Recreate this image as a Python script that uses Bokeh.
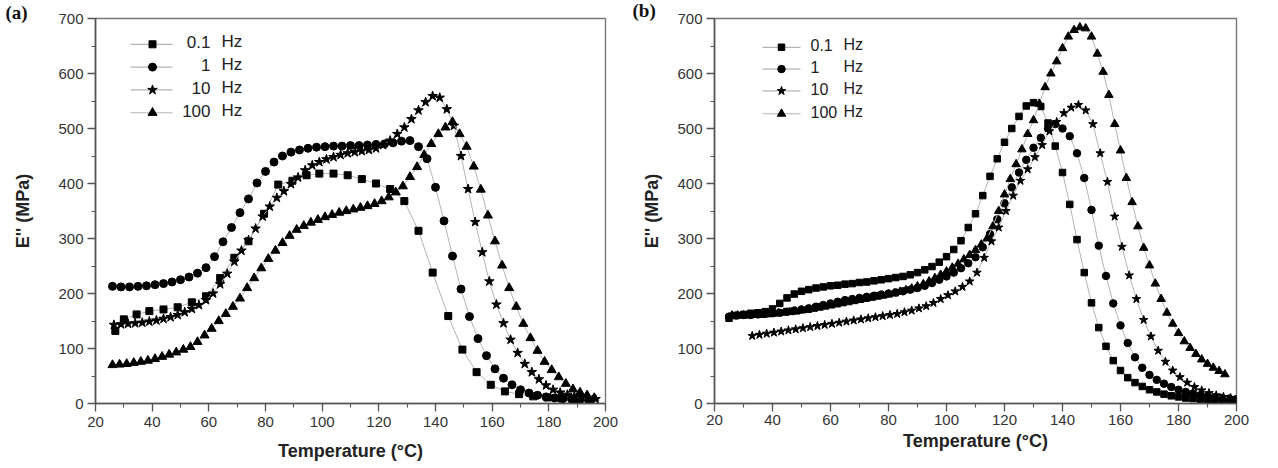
from bokeh.plotting import figure
from bokeh.layouts import row
from bokeh.models import Range1d, SingleIntervalTicker, Label, Title
from bokeh.embed import file_html
from bokeh.resources import INLINE

# ---------------- data: panel (a) ----------------
a_sq_T = [27, 30, 34.5, 39, 44, 49, 54, 59, 64, 69, 74, 79.5, 84.5, 89.5, 94.5, 99, 104, 109, 114, 119,
          124, 129, 134, 139, 144.5, 149.5, 154.5, 159.5, 164.5, 169.5, 174.5, 179.5, 184.5, 189.5, 194.5]
a_sq_E = [132, 153, 162, 168, 171, 175, 184, 195, 228, 265, 295, 345, 398, 405, 415, 418, 418, 415, 408, 400,
          390, 368, 314, 238, 159, 98, 57, 34, 22, 17, 13, 11, 9, 8, 7]

a_ci_T = [26, 29, 32, 35, 38, 41, 44, 47, 50, 53, 56, 59, 62, 65, 68, 71, 74, 77, 80, 83, 86, 89, 92, 95, 98,
          101, 104, 107, 110, 113, 116, 119, 122, 125, 128, 131, 134, 137, 140, 143, 146, 149, 152, 155, 158,
          161, 164, 167, 170, 173, 176, 179, 182, 185, 188, 191, 194]
a_ci_E = [213, 212, 212, 213, 214, 216, 218, 221, 225, 230, 237, 247, 267, 294, 320, 347, 372, 401, 422, 439,
          450, 457, 461, 464, 466, 467, 468, 468, 469, 469, 470, 471, 472, 474, 477, 478, 467, 445, 393, 332,
          268, 208, 158, 118, 87, 63, 46, 34, 25, 19, 15, 12, 10, 9, 8, 7, 7]

a_st_T = [26.5, 29, 31.5, 34, 36.5, 39, 41.5, 44, 46.5, 49, 51.5, 54, 56.5, 59, 61.5, 64, 66.5, 69, 71.5, 74,
          76.5, 79, 81.5, 84, 86.5, 89, 91.5, 94, 96.5, 99, 101.5, 104, 106.5, 109, 111.5, 114, 116.5, 119,
          121.5, 124, 126.5, 129, 131.5, 134, 136.5, 139, 141.5, 144, 146.5, 149, 151.5, 154, 156.5, 159,
          161.5, 164, 166.5, 169, 171.5, 174, 176.5, 179, 181.5, 184, 186.5, 189, 191.5, 194, 196.5]
a_st_E = [143, 144, 145, 146, 147, 149, 151, 154, 157, 161, 166, 172, 179, 188, 200, 217, 236, 258, 278, 297,
          318, 340, 358, 374, 386, 399, 411, 424, 433, 439, 444, 448, 452, 455, 457, 459, 461, 464, 470, 478,
          490, 502, 517, 533, 548, 559, 556, 535, 505, 450, 390, 330, 275, 222, 180, 146, 116, 92, 72, 57,
          44, 33, 25, 20, 16, 13, 11, 9, 8]

a_tr_T = [26, 28.5, 31, 33.5, 36, 38.5, 41, 43.5, 46, 48.5, 51, 53.5, 56, 58.5, 61, 63.5, 66, 68.5, 71, 73.5,
          76, 78.5, 81, 83.5, 86, 88.5, 91, 93.5, 96, 98.5, 101, 103.5, 106, 108.5, 111, 113.5, 116, 118.5,
          121, 123.5, 126, 128.5, 131, 133.5, 136, 138.5, 141, 143.5, 146, 148.5, 151, 153.5, 156, 158.5,
          161, 163.5, 166, 168.5, 171, 173.5, 176, 178.5, 181, 183.5, 186, 188.5, 191, 193.5, 196]
a_tr_E = [70, 71, 72, 74, 76, 78, 81, 85, 89, 93, 98, 103, 112, 124, 136, 150, 163, 176, 191, 210,
          228, 246, 263, 278, 292, 305, 316, 323, 329, 334, 339, 343, 347, 350, 353, 356, 359, 363, 368, 375,
          384, 395, 412, 430, 452, 472, 490, 502, 512, 490, 467, 431, 389, 342, 295, 251, 210, 176, 145, 119,
          96, 76, 61, 48, 36, 26, 20, 15, 10]

# ---------------- data: panel (b) ----------------
b_sq_T = [25, 27.5, 30, 32.5, 35, 37.5, 40, 42.5, 45, 47.5, 50, 52.5, 55, 57.5, 60, 62.5, 65, 67.5, 70, 72.5,
          75, 77.5, 80, 82.5, 85, 87.5, 90, 92.5, 95, 97.5, 100, 102.5, 105, 107.5, 110, 112.5, 115, 117.5,
          120, 122.5, 125, 127.5, 130, 132.5, 135, 137.5, 140, 142.5, 145, 147.5, 150, 152.5, 155, 157.5,
          160, 162.5, 165, 167.5, 170, 172.5, 175, 177.5, 180, 182.5, 185, 187.5, 190, 192.5, 195, 197.5, 200]
b_sq_E = [155, 160, 162, 164, 165, 167, 172, 182, 192, 199, 204, 207, 210, 212, 214, 215, 217, 218, 220, 221,
          223, 225, 227, 229, 231, 234, 238, 243, 249, 257, 267, 280, 296, 320, 345, 378, 413, 445, 475, 500,
          522, 541, 547, 540, 510, 468, 420, 362, 298, 238, 183, 138, 104, 78, 60, 47, 38, 31, 25, 21,
          17, 14, 12, 10, 9, 8, 7, 6, 6, 5, 5]

b_ci_T = list(b_sq_T)
b_ci_E = [158, 160, 161, 161, 162, 163, 164, 165, 167, 169, 171, 173, 176, 179, 182, 185, 188, 190, 192, 194,
          196, 198, 200, 202, 204, 207, 210, 214, 219, 225, 231, 238, 246, 255, 266, 284, 308, 335, 364, 393,
          420, 443, 465, 483, 500, 508, 500, 486, 455, 410, 352, 287, 232, 182, 142, 110, 84, 65, 52, 43,
          36, 30, 25, 21, 18, 15, 13, 11, 10, 9, 8]

b_st_T = [33, 35.5, 38, 40.5, 43, 45.5, 48, 50.5, 53, 55.5, 58, 60.5, 63, 65.5, 68, 70.5, 73, 75.5, 78, 80.5,
          83, 85.5, 88, 90.5, 93, 95.5, 98, 100.5, 103, 105.5, 108, 110.5, 113, 115.5, 118, 120.5, 123, 125.5,
          128, 130.5, 133, 135.5, 138, 140.5, 143, 145.5, 148, 150.5, 153, 155.5, 158, 160.5, 163, 165.5,
          168, 170.5, 173, 175.5, 178, 180.5, 183, 185.5, 188, 190.5, 193, 195.5, 198]
b_st_E = [123, 125, 127, 129, 131, 133, 135, 137, 139, 141, 143, 145, 147, 149, 151, 153, 155, 157, 159, 161,
          163, 166, 169, 173, 177, 183, 190, 197, 204, 212, 222, 238, 265, 295, 320, 350, 378, 405, 426, 448,
          470, 495, 512, 528, 538, 543, 533, 508, 455, 403, 340, 285, 233, 190, 152, 122, 96, 76, 60, 48,
          38, 30, 24, 19, 15, 12, 10]

b_tr_T = [26, 28, 30, 32, 34, 36, 38, 40, 42, 44, 46, 48, 50, 52, 54, 56, 58, 60, 62, 64, 66, 68, 70, 72, 74,
          76, 78, 80, 82, 84, 86, 88, 90, 92, 94, 96, 98, 100, 102, 104, 106, 108, 110, 112, 114, 116, 118,
          120, 122, 124, 126, 128, 130, 132, 134, 136, 138, 140, 142, 144, 146, 148, 150, 152, 154, 156, 158,
          160, 162, 164, 166, 168, 170, 172, 174, 176, 178, 180, 182, 184, 186, 188, 190, 192, 194, 196]
b_tr_E = [160, 160, 160, 160, 161, 161, 162, 163, 164, 165, 166, 167, 169, 170, 172, 174, 176, 178, 180, 182,
          184, 186, 188, 190, 192, 194, 196, 198, 200, 203, 206, 209, 213, 217, 222, 228, 234, 240, 247, 254,
          262, 270, 279, 289, 300, 322, 350, 380, 408, 435, 462, 490, 515, 545, 575, 600, 622, 646, 667, 679,
          684, 682, 667, 636, 603, 561, 508, 460, 410, 366, 322, 283, 251, 218, 190, 165, 145, 128, 113, 101,
          90, 80, 72, 65, 59, 53]

freq_numbers = ["0.1", "1", "10", "100"]
unit_text = "Hz"
x_ticks_interval = 20
y_ticks_interval = 100

FONT = "Liberation Sans"
GRAY = "#b4b4b4"


def make_panel(width, bl, br, bt, bb, series, leg, panel_text, panel_offset, title_standoff,
               ylab_standoff, xlab_standoff, xtick_standoff, leg_font, num_align, num_x, hz_x):
    frame_w = width - bl - br
    frame_h = 468 - bt - bb
    p = figure(width=width, height=468, x_range=Range1d(20, 200), y_range=Range1d(0, 700),
               output_backend="svg", toolbar_location=None,
               min_border_left=bl, min_border_right=br, min_border_top=bt, min_border_bottom=bb)
    p.title = Title(text=panel_text, align="left", offset=panel_offset, standoff=title_standoff,
                    vertical_align="bottom", text_font="Liberation Serif", text_font_style="bold",
                    text_font_size="19px", text_color="#111111")
    p.extra_x_ranges = {"px": Range1d(0, frame_w)}
    p.extra_y_ranges = {"px": Range1d(0, frame_h)}
    p.grid.visible = False
    p.background_fill_color = "white"
    p.border_fill_color = "white"
    p.outline_line_color = "#777777"
    p.outline_line_width = 1.4

    p.xaxis.ticker = SingleIntervalTicker(interval=x_ticks_interval, num_minor_ticks=2)
    p.yaxis.ticker = SingleIntervalTicker(interval=y_ticks_interval, num_minor_ticks=2)
    for ax in (p.xaxis[0], p.yaxis[0]):
        ax.axis_line_color = "#555555"
        ax.axis_line_width = 1.6
        ax.major_tick_line_color = "#555555"
        ax.minor_tick_line_color = "#555555"
        ax.major_tick_line_width = 1.3
        ax.minor_tick_line_width = 1.1
        ax.major_tick_out = 8
        ax.major_tick_in = 0
        ax.minor_tick_out = 4
        ax.minor_tick_in = 0
        ax.major_label_text_font = FONT
        ax.major_label_text_font_size = "15px"
        ax.major_label_text_color = "#333333"
        ax.axis_label_text_font = FONT
        ax.axis_label_text_font_style = "bold"
        ax.axis_label_text_font_size = "18px"
        ax.axis_label_text_color = "#222222"
    p.xaxis.axis_label = "Temperature (°C)"
    p.yaxis.axis_label = "E'' (MPa)"
    p.yaxis.axis_label_standoff = ylab_standoff
    p.xaxis.axis_label_standoff = xlab_standoff
    p.xaxis.major_label_standoff = xtick_standoff
    p.yaxis.major_label_standoff = 4

    for (T, E, marker, size) in series:
        p.line(T, E, line_color=GRAY, line_width=1)
        p.scatter(T, E, marker=marker, size=size, fill_color="black", line_color="black")

    lx0, lx1, mx, rows = leg
    for i, (T, E, marker, size) in enumerate(series):
        ry = rows[i]
        p.line([lx0, lx1], [ry, ry], line_color=GRAY, line_width=1.2,
               x_range_name="px", y_range_name="px")
        p.scatter([mx], [ry], marker=marker, size=size, fill_color="black", line_color="black",
                  x_range_name="px", y_range_name="px")
        p.add_layout(Label(x=num_x, y=ry, x_units="screen", y_units="screen", text=freq_numbers[i],
                           text_align=num_align, text_baseline="middle", text_font=FONT,
                           text_font_size=leg_font, text_color="#222222"))
        p.add_layout(Label(x=hz_x, y=ry, x_units="screen", y_units="screen", text=unit_text,
                           text_align="left", text_baseline="middle", text_font=FONT,
                           text_font_size=leg_font, text_color="#222222"))
    return p


series_a = [(a_sq_T, a_sq_E, "square", 7), (a_ci_T, a_ci_E, "circle", 8),
            (a_st_T, a_st_E, "star", 10), (a_tr_T, a_tr_E, "triangle", 9)]
series_b = [(b_sq_T, b_sq_E, "square", 6.5), (b_ci_T, b_ci_E, "circle", 7.5),
            (b_st_T, b_st_E, "star", 9), (b_tr_T, b_tr_E, "triangle", 8.5)]

pa = make_panel(630, 95, 25, 15, 65, series_a,
                (35, 77, 57, [362, 339, 316, 293]), "(a)", -90, -8,
                22, 11, 5, "17px", "right", 115, 126)
pb = make_panel(648, 84, 42, 18, 62, series_b,
                (48, 86, 67, [359, 337, 315, 292]), "(b)", -82, -5,
                12, 3, 3, "16px", "left", 96, 129)

layout = row(pa, pb)
open("out.html", "w").write(file_html(layout, INLINE))
